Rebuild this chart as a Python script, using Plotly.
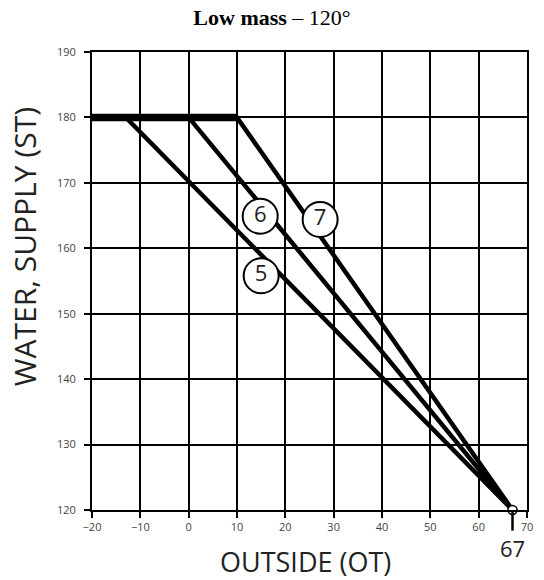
import plotly.graph_objects as go

# ---- data ----
curve_labels = ["5", "6", "7"]
curve_start_ot = [-13, 0, 10]      # outside temp where each curve leaves the 180 plateau
max_st = 180                        # plateau water supply temperature
plateau_ot = [-20, 10]              # thick plateau segment
end_ot = 67                         # all curves meet here
end_st = 120
label_ot = [15.0, 14.8, 27.2]
label_st = [155.8, 164.9, 164.4]
x_ticks = [-20, -10, 0, 10, 20, 30, 40, 50, 60, 70]
y_ticks = [120, 130, 140, 150, 160, 170, 180, 190]

fig = go.Figure()

# diagonal curves
for lab, x0 in zip(curve_labels, curve_start_ot):
    fig.add_trace(go.Scatter(
        x=[-20, x0, end_ot], y=[max_st, max_st, end_st],
        mode="lines", line=dict(color="black", width=4.5),
        showlegend=False, hoverinfo="skip"))

# thick plateau
fig.add_trace(go.Scatter(
    x=plateau_ot, y=[max_st, max_st], mode="lines",
    line=dict(color="black", width=7.5), showlegend=False, hoverinfo="skip"))

# circled curve labels
fig.add_trace(go.Scatter(
    x=label_ot, y=label_st, mode="markers+text", text=curve_labels,
    textposition="middle center",
    textfont=dict(family="Open Sans", size=22, color="#222"),
    marker=dict(size=35, color="white", line=dict(color="black", width=2)),
    showlegend=False, hoverinfo="skip"))

# end point marker
fig.add_trace(go.Scatter(
    x=[end_ot], y=[end_st], mode="markers", cliponaxis=False,
    marker=dict(size=9, color="white", line=dict(color="black", width=1.5)),
    showlegend=False, hoverinfo="skip"))

fig.add_shape(type="line", xref="x", yref="paper", x0=end_ot, x1=end_ot,
              y0=0, y1=-0.045, line=dict(color="black", width=2.5))

axis_common = dict(
    showgrid=True, gridcolor="black", gridwidth=2,
    showline=True, linecolor="black", linewidth=2, mirror=True,
    ticks="outside", ticklen=6, tickwidth=2, tickcolor="black",
    tickfont=dict(family="Open Sans", size=11, color="#444"),
    zeroline=False, fixedrange=True)

fig.update_xaxes(range=[-20, 70], tickvals=x_ticks, **axis_common)
fig.update_yaxes(range=[120, 190], tickvals=y_ticks, ticklabelstandoff=6, **axis_common)

fig.add_annotation(text="OUTSIDE (OT)", xref="paper", yref="paper",
                   x=0.49, y=-0.113, showarrow=False,
                   xanchor="center", yanchor="middle",
                   font=dict(family="Open Sans", size=27, color="#222"))
fig.add_annotation(text="WATER, SUPPLY (ST)", xref="paper", yref="paper",
                   x=-0.155, y=0.575, showarrow=False, textangle=-90,
                   xanchor="center", yanchor="middle",
                   font=dict(family="Open Sans", size=30, color="#222"))
fig.add_annotation(text=str(end_ot), xref="x", yref="paper",
                   x=end_ot, y=-0.083, showarrow=False,
                   xanchor="center", yanchor="middle",
                   font=dict(family="Open Sans", size=22, color="#222"))

fig.update_layout(
    width=544, height=580,
    margin=dict(l=92, r=11, t=52, b=70),
    paper_bgcolor="white", plot_bgcolor="white",
    title=dict(text="<b>Low mass</b> – 120°", x=0.5, xanchor="center",
               y=0.97, yanchor="middle",
               font=dict(family="Liberation Serif", size=22, color="black")),
)

fig.write_html("out.html",
               config={"displayModeBar": False},
               post_script="document.body.style.margin='0px';"
                           "document.body.style.overflow='hidden';")
